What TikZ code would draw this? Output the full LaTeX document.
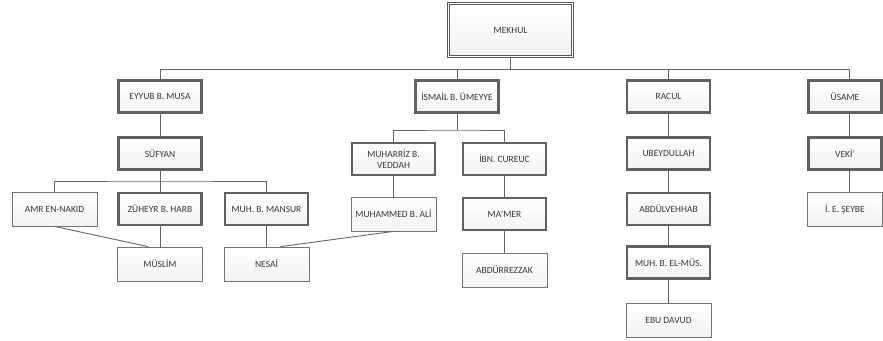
\documentclass[tikz,border=0pt]{standalone}
\usepackage{fontspec}
\setmainfont{Carlito}
\usepackage{tikz}
\usetikzlibrary{calc}

\begin{document}
\begin{tikzpicture}[x=1pt,y=-1pt,
  every node/.style={font=\fontsize{9.5}{10.5}\selectfont, text=black!78, align=center, inner sep=1pt},
  hadis/.style={draw=black!55, line width=0.8pt, top color=white, bottom color=gray!10,
    minimum width=85pt, minimum height=34pt},
  rawi/.style={hadis, draw=black!62, line width=2.2pt, minimum width=83pt, minimum height=32pt},
  kok/.style={hadis, draw=black!65, line width=0.7pt, double=white, double distance=1.6pt,
    minimum width=124pt, minimum height=53pt},
  link/.style={draw=black!60, line width=0.9pt}]
\useasboundingbox (0,0) rectangle (883,340);
% kok
\node[kok] (mekhul) at (510.5,30) {MEKHUL};
% birinci tabaka
\node[rawi] (eyyub) at (160,96.5) {EYYUB B. MUSA};
\node[rawi] (ismail) at (457,96.5) {İSMAİL B. ÜMEYYE};
\node[rawi] (racul) at (668.5,96.5) {RACUL};
\node[rawi, minimum width=73pt] (usame) at (845,96.5) {ÜSAME};
% ikinci tabaka
\node[rawi] (sufyan) at (160,153.5) {SÜFYAN};
\node[rawi] (muharriz) at (393.5,159) {MUHARRİZ B.\\VEDDAH};
\node[rawi] (ibn) at (504.5,159) {İBN. CUREUC};
\node[rawi] (ubeydullah) at (668.5,153.5) {UBEYDULLAH};
\node[rawi, minimum width=73pt] (veki) at (845,153.5) {VEKİ'};
% ucuncu tabaka
\node[hadis] (amr) at (54.5,209) {AMR EN-NAKID};
\node[rawi] (zuheyr) at (160,209) {ZÜHEYR B. HARB};
\node[rawi] (mansur) at (266.5,209) {MUH. B. MANSUR};
\node[hadis] (muhammed) at (393.5,214) {MUHAMMED B. ALİ};
\node[rawi] (mamer) at (504.5,214) {MA'MER};
\node[rawi] (abdulvehhab) at (668.5,209) {ABDÜLVEHHAB};
\node[hadis, minimum width=75pt] (seybe) at (845,209) {İ. E. ŞEYBE};
% musannifler
\node[hadis] (muslim) at (160,264) {MÜSLİM};
\node[hadis] (nesai) at (266.5,264) {NESAİ};
\node[hadis] (abdurrezzak) at (504.5,270) {ABDÜRREZZAK};
\node[rawi] (elmus) at (668.5,262.5) {MUH. B. EL-MÜS.};
\node[hadis] (ebudavud) at (668.5,320.5) {EBU DAVUD};
% baglantilar
\coordinate (bus) at (510.5,69);
\coordinate (ibus) at (457,130);
\coordinate (sbus) at (160,181);
\draw[link] (mekhul.south) -- (bus);
\foreach \c in {eyyub,ismail,racul}
  \draw[link] (\c.north) |- (bus);
\draw[link] (bus) -| ([xshift=4pt]usame.north);
\draw[link] (eyyub) -- (sufyan);
\draw[link] (sufyan.south) -- (sbus);
\draw[link] (amr.north) |- (sbus) -| (mansur.north);
\draw[link] (sbus) -- (zuheyr.north);
\draw[link] (ismail.south) -- (ibus);
\draw[link] (muharriz.north) |- (ibus) -| (ibn.north);
\draw[link] (muharriz) -- (muhammed);
\draw[link] (ibn) -- (mamer);
\draw[link] (mamer) -- (abdurrezzak);
\draw[link] (racul) -- (ubeydullah);
\draw[link] (ubeydullah) -- (abdulvehhab);
\draw[link] (abdulvehhab) -- (elmus);
\draw[link] (elmus) -- (ebudavud);
\draw[link] ([xshift=4pt]usame.south) -- ([xshift=4pt]veki.north);
\draw[link] ([xshift=4pt]veki.south) -- ([xshift=4pt]seybe.north);
\draw[link] (zuheyr) -- (muslim);
\draw[link] (amr.south) -- ([xshift=-12pt]muslim.north);
\draw[link] (mansur) -- (nesai);
\draw[link] (muhammed.south) -- ([xshift=14pt]nesai.north);
\end{tikzpicture}
\end{document}
